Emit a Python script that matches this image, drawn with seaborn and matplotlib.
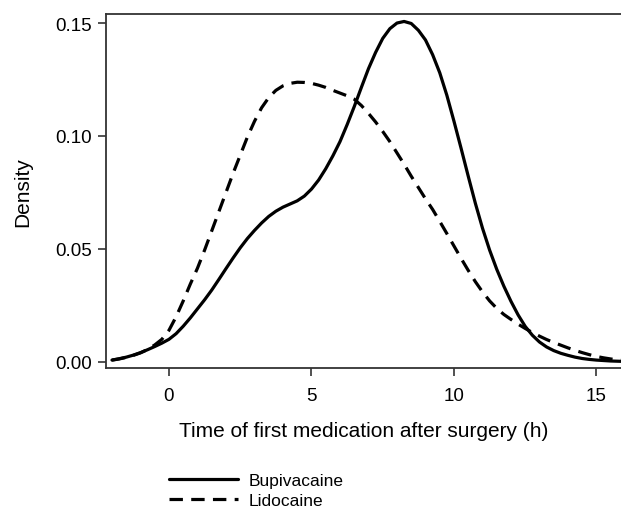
import matplotlib.pyplot as plt
import matplotlib as mpl
import pandas as pd
import seaborn as sns

# values (density by hour, 0.25 h steps)
hours = [-2.0 + 0.25 * i for i in range(73)]

bupivacaine = [0.0008, 0.0014, 0.0021, 0.0030, 0.0041, 0.0054, 0.0068, 0.0083,
               0.0100, 0.0125, 0.0158, 0.0195, 0.0235, 0.0275, 0.0318, 0.0365,
               0.0413, 0.0460, 0.0505, 0.0546, 0.0582, 0.0615, 0.0644, 0.0667,
               0.0685, 0.0699, 0.0713, 0.0734, 0.0765, 0.0805, 0.0855, 0.0912,
               0.0975, 0.1050, 0.1130, 0.1215, 0.1298, 0.1370, 0.1432, 0.1475,
               0.1500, 0.1507, 0.1498, 0.1468, 0.1425, 0.1360, 0.1280, 0.1180,
               0.1065, 0.0945, 0.0822, 0.0702, 0.0592, 0.0495, 0.0410, 0.0335,
               0.0268, 0.0208, 0.0157, 0.0118, 0.0088, 0.0066, 0.0050, 0.0038,
               0.0029, 0.0021, 0.0015, 0.0011, 0.0008, 0.0006, 0.0004, 0.0003,
               0.0002]

lidocaine = [0.0008, 0.0013, 0.0020, 0.0029, 0.0040, 0.0055, 0.0075, 0.0100,
             0.0140, 0.0200, 0.0270, 0.0345, 0.0415, 0.0495, 0.0580, 0.0665,
             0.0750, 0.0835, 0.0915, 0.0995, 0.1065, 0.1125, 0.1170, 0.1202,
             0.1222, 0.1233, 0.1238, 0.1237, 0.1233, 0.1225, 0.1215, 0.1202,
             0.1190, 0.1178, 0.1163, 0.1135, 0.1100, 0.1062, 0.1020, 0.0975,
             0.0925, 0.0875, 0.0822, 0.0772, 0.0722, 0.0675, 0.0622, 0.0568,
             0.0513, 0.0458, 0.0405, 0.0355, 0.0310, 0.0270, 0.0237, 0.0210,
             0.0188, 0.0167, 0.0148, 0.0130, 0.0114, 0.0099, 0.0086, 0.0074,
             0.0062, 0.0051, 0.0041, 0.0032, 0.0024, 0.0018, 0.0013, 0.0009,
             0.0007]

drugs = ['Bupivacaine', 'Lidocaine']

df = pd.concat([
    pd.DataFrame({'hours': hours, 'density': bupivacaine, 'drug': drugs[0]}),
    pd.DataFrame({'hours': hours, 'density': lidocaine, 'drug': drugs[1]}),
])

sns.set_style('white')
mpl.rcParams['font.family'] = ['Liberation Sans', 'DejaVu Sans']
mpl.rcParams['text.color'] = 'black'
mpl.rcParams['axes.labelcolor'] = 'black'
mpl.rcParams['xtick.color'] = 'black'
mpl.rcParams['ytick.color'] = 'black'

dash = (4.2, 2.6)

fig = plt.figure(figsize=(6.21, 5.10), dpi=100)
ax = fig.add_axes([106 / 621, 1 - 369 / 510, 515 / 621, 354 / 510])

sns.lineplot(data=df, x='hours', y='density', hue='drug', style='drug',
             palette={d: 'black' for d in drugs},
             dashes={'Bupivacaine': '', 'Lidocaine': dash},
             linewidth=2.3, ax=ax, legend=False)

ax.set_xlim(-2.21, 15.86)
ax.set_ylim(-0.0027, 0.154)
ax.set_xticks([0, 5, 10, 15])
ax.set_yticks([0.0, 0.05, 0.10, 0.15])
ax.set_yticklabels(['0.00', '0.05', '0.10', '0.15'])
ax.tick_params(axis='both', direction='out', length=6, width=1.2, color='#333333',
               labelsize=13.5, bottom=True, left=True)
ax.tick_params(axis='x', pad=8)
ax.tick_params(axis='y', pad=4)
ax.set_xlabel('Time of first medication after surgery (h)', fontsize=15, labelpad=12)
ax.set_ylabel('Density', fontsize=15, labelpad=17)

for side in ['left', 'bottom', 'top']:
    ax.spines[side].set_color('#333333')
    ax.spines[side].set_linewidth(1.3)
ax.spines['right'].set_visible(False)

handles = [mpl.lines.Line2D([], [], color='black', lw=2.3),
           mpl.lines.Line2D([], [], color='black', lw=2.3, dashes=dash)]
fig.legend(handles, drugs, loc='upper left', bbox_to_anchor=(162 / 621, 1 - 467 / 510),
           frameon=False, fontsize=12.5, handlelength=4.0, handletextpad=0.6,
           labelspacing=0.25, borderaxespad=0)

fig.savefig('out.png', dpi=100)
